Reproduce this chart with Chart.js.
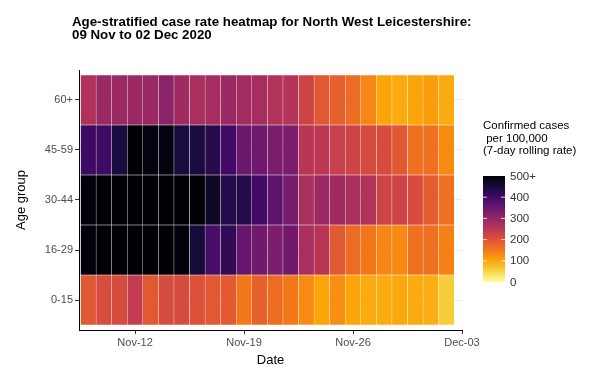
<!DOCTYPE html>
<html>
<head>
<meta charset="utf-8">
<script src="https://cdn.jsdelivr.net/npm/chart.js@4"></script>
<style>
  html, body { margin: 0; padding: 0; background: #fff; }
  #wrap { position: relative; width: 589px; height: 372px; }
</style>
</head>
<body>
<div id="wrap"><canvas id="heatmap" width="589" height="372"></canvas></div>
<script>
const dates = [
  "09 Nov", "10 Nov", "11 Nov", "12 Nov", "13 Nov", "14 Nov", "15 Nov", "16 Nov",
  "17 Nov", "18 Nov", "19 Nov", "20 Nov", "21 Nov", "22 Nov", "23 Nov", "24 Nov",
  "25 Nov", "26 Nov", "27 Nov", "28 Nov", "29 Nov", "30 Nov", "01 Dec", "02 Dec"
];
const ageGroups = ["0-15", "16-29", "30-44", "45-59", "60+"];

// 7-day rolling case rate per 100,000, one value per date
const rate0to15 = [190, 210, 210, 240, 190, 210, 210, 200, 190, 188, 150, 178, 165, 150, 130, 100, 125, 100, 95, 95, 98, 95, 92, 60];
const rate16to29 = [495, 540, 560, 560, 550, 540, 495, 450, 392, 420, 355, 343, 328, 343, 275, 255, 190, 165, 152, 135, 130, 160, 160, 140];
const rate30to44 = [495, 530, 550, 570, 560, 550, 540, 520, 465, 432, 435, 402, 365, 333, 275, 290, 285, 275, 262, 225, 225, 210, 185, 160];
const rate45to59 = [405, 405, 445, 505, 490, 490, 445, 445, 430, 402, 350, 345, 330, 330, 255, 250, 232, 225, 212, 210, 190, 160, 160, 130];
const rate60plus = [265, 290, 290, 290, 292, 310, 285, 275, 278, 290, 282, 278, 262, 258, 225, 190, 180, 165, 135, 100, 95, 100, 108, 95];

// x ticks: day offsets from 09 Nov
const dayTicks = [3, 10, 17, 24];
const dayTickLabels = ["Nov-12", "Nov-19", "Nov-26", "Dec-03"];

const legendTicks = [0, 100, 200, 300, 400, 500];
const legendLabels = ["0", "100", "200", "300", "400", "500+"];

// inferno, dark end first
const inferno = ["#000004", "#160b39", "#420a68", "#6a176e", "#932667", "#bc3754",
  "#dd513a", "#f37819", "#fca50a", "#f6d746", "#fcffa4"];

function hexToRgb(h) {
  return [1, 3, 5].map((k) => parseInt(h.slice(k, k + 2), 16));
}

function rateColour(v) {
  const t = 1 - Math.min(Math.max(v, 0), 500) / 500;
  const pos = t * (inferno.length - 1);
  const i = Math.min(Math.floor(pos), inferno.length - 2);
  const f = pos - i;
  const a = hexToRgb(inferno[i]);
  const b = hexToRgb(inferno[i + 1]);
  const c = a.map((x, k) => Math.round(x + (b[k] - x) * f));
  return `rgb(${c[0]},${c[1]},${c[2]})`;
}

const rows = [rate0to15, rate16to29, rate30to44, rate45to59, rate60plus];

const FONT = '"Liberation Sans", Arial, sans-serif';
Chart.defaults.font.family = FONT;

const decorPlugin = {
  id: "decor",
  afterDraw(chart) {
    const ctx = chart.ctx;
    ctx.save();
    // title
    ctx.fillStyle = "#000";
    ctx.font = "bold 13.3px " + FONT;
    ctx.textAlign = "left";
    ctx.textBaseline = "alphabetic";
    ctx.fillText("Age-stratified case rate heatmap for North West Leicestershire:", 72, 26);
    ctx.fillText("09 Nov to 02 Dec 2020", 72, 38.5);

    // colour bar legend
    ctx.font = "11.5px " + FONT;
    ctx.fillText("Confirmed cases", 483, 129);
    ctx.fillText(" per 100,000", 483, 141.5);
    ctx.fillText("(7-day rolling rate)", 483, 154);

    const barLeft = 483, barWidth = 22, barTop = 176, barBottom = 282;
    const grad = ctx.createLinearGradient(0, barBottom, 0, barTop);
    for (let k = 0; k <= 20; k++) {
      grad.addColorStop(k / 20, rateColour(500 * k / 20));
    }
    ctx.fillStyle = grad;
    ctx.fillRect(barLeft, barTop, barWidth, barBottom - barTop);

    ctx.textBaseline = "middle";
    legendTicks.forEach((v, i) => {
      const y = barBottom - (v / 500) * (barBottom - barTop);
      if (v > 0 && v < 500) {
        ctx.strokeStyle = "rgba(255,255,255,0.8)";
        ctx.lineWidth = 1;
        ctx.beginPath();
        ctx.moveTo(barLeft, y); ctx.lineTo(barLeft + 4, y);
        ctx.moveTo(barLeft + barWidth - 4, y); ctx.lineTo(barLeft + barWidth, y);
        ctx.stroke();
      }
      ctx.fillStyle = "#333";
      ctx.fillText(legendLabels[i], 510, y + 0.5);
    });
    ctx.restore();
  }
};

new Chart(document.getElementById("heatmap"), {
  type: "bar",
  data: {
    datasets: rows.map((vals, r) => ({
      label: ageGroups[r],
      data: vals.map((v, i) => ({ x: i, y: [r - 0.5, r + 0.5] })),
      backgroundColor: vals.map(rateColour),
      borderColor: "rgba(255,255,255,0.35)",
      borderWidth: 0.5,
      borderSkipped: false,
      barPercentage: 1,
      categoryPercentage: 1,
      grouped: false
    }))
  },
  options: {
    responsive: false,
    animation: false,
    layout: {
      padding: { top: 70, right: 127, bottom: 0, left: 0 }
    },
    plugins: {
      legend: { display: false },
      tooltip: { enabled: false },
      title: { display: false }
    },
    scales: {
      x: {
        type: "linear",
        min: -0.6,
        max: 24,
        offset: false,
        afterBuildTicks: (s) => {
          s.ticks = dayTicks.map((v) => ({ value: v }));
        },
        afterFit: (s) => {
          s.height = 42;
        },
        ticks: {
          callback: (v, i) => dayTickLabels[i],
          color: "#4d4d4d",
          font: { size: 11 },
          padding: 2,
          maxRotation: 0,
          autoSkip: false
        },
        grid: {
          drawOnChartArea: false,
          offset: false,
          tickLength: 4,
          tickColor: "#333"
        },
        border: { color: "#000", width: 1 },
        title: {
          display: true,
          text: "Date",
          color: "#000",
          font: { size: 13 },
          padding: { top: 0, bottom: 4 }
        }
      },
      y: {
        type: "linear",
        min: -0.6,
        max: 4.6,
        afterBuildTicks: (s) => {
          s.ticks = ageGroups.map((_, i) => ({ value: i }));
        },
        afterFit: (s) => {
          s.width = 79;
        },
        ticks: {
          callback: (v, i) => ageGroups[i],
          color: "#4d4d4d",
          font: { size: 11 },
          padding: 2
        },
        grid: {
          color: "#ebebeb",
          tickLength: 4,
          tickColor: "#333"
        },
        border: { color: "#000", width: 1 },
        title: {
          display: true,
          text: "Age group",
          color: "#000",
          font: { size: 13 },
          padding: { top: 14, bottom: 0 }
        }
      }
    }
  },
  plugins: [decorPlugin]
});
</script>
</body>
</html>
